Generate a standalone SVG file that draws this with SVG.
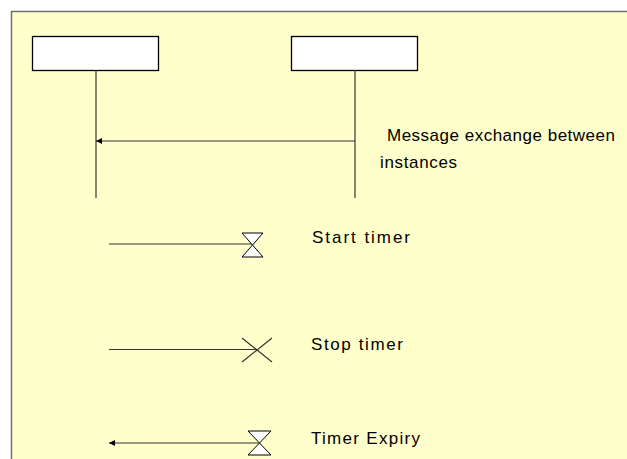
<svg xmlns="http://www.w3.org/2000/svg" width="627" height="459" viewBox="0 0 627 459">
<defs>
<style>
.bg{fill:#ffffcc;stroke:#707070;stroke-width:1.5}
.inst{fill:#ffffff;stroke:#000000;stroke-width:1.3}
.ln{stroke:#333333;stroke-width:1.2;fill:none}
.tm{fill:#ffffff;stroke:#000000;stroke-width:1}
.lbl{font-family:"Liberation Sans",Arial,sans-serif;font-size:17px;fill:#000000}
</style>
<marker id="ah" viewBox="0 0 10 10" refX="10" refY="5" markerWidth="6" markerHeight="6" orient="auto" markerUnits="userSpaceOnUse">
<path d="M0,0 L10,5 L0,10 Z" fill="#000000"/>
</marker>
</defs>
<rect class="bg" x="11.5" y="11.5" width="640" height="470"/>
<g id="instance1">
<rect class="inst" x="32.5" y="36.5" width="126" height="34"/>
</g>
<g id="instance2">
<rect class="inst" x="291.5" y="36.5" width="126" height="34"/>
</g>
<g id="start-timer">
<path class="tm" d="M242,233 L263,233 L252.5,245 Z M252.5,245 L242,257 L263,257 Z"/>
<text class="lbl" x="312" y="243" textLength="98" lengthAdjust="spacing">Start timer</text>
</g>
<g id="stop-timer">
<path class="ln" d="M242,338 L272,362 M272,338 L242,362"/>
<text class="lbl" x="311" y="350" textLength="92" lengthAdjust="spacing">Stop timer</text>
</g>
<g id="timer-expiry">
<path class="tm" d="M248,431 L271,431 L259.5,443 Z M259.5,443 L248,455 L271,455 Z"/>
<text class="lbl" x="311" y="444" textLength="109" lengthAdjust="spacing">Timer Expiry</text>
</g>
<g id="message-label">
<text class="lbl" x="387" y="141" textLength="228" lengthAdjust="spacing">Message exchange between</text>
<text class="lbl" x="380" y="168" textLength="77" lengthAdjust="spacing">instances</text>
</g>
<g id="connectors">
<line class="ln" x1="96" y1="70" x2="96" y2="198"/>
<line class="ln" x1="355" y1="70" x2="355" y2="198"/>
<line class="ln" x1="355" y1="141" x2="96" y2="141" marker-end="url(#ah)"/>
<line class="ln" x1="109" y1="244" x2="252" y2="244"/>
<line class="ln" x1="109" y1="349.5" x2="257" y2="349.5"/>
<line class="ln" x1="259" y1="443" x2="109" y2="443" marker-end="url(#ah)"/>
</g>
</svg>
